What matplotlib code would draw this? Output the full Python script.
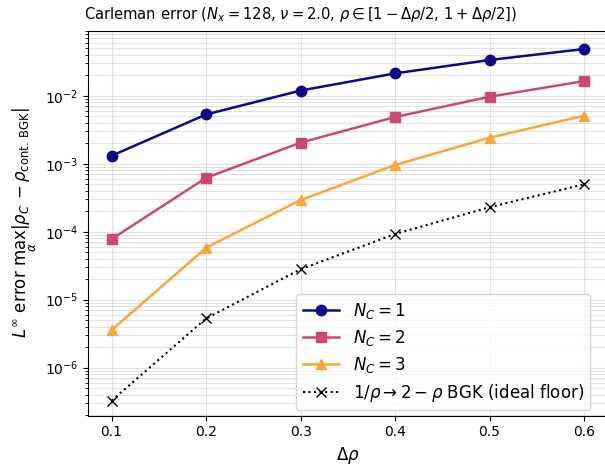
import matplotlib
matplotlib.use("Agg")
import matplotlib.pyplot as plt
import numpy as np

delta_rho = [0.1, 0.2, 0.3, 0.4, 0.5, 0.6]
err_nc1 = [1.31e-3, 5.3e-3, 1.19e-2, 2.13e-2, 3.35e-2, 4.86e-2]
err_nc2 = [7.8e-5, 6.2e-4, 2.04e-3, 4.86e-3, 9.66e-3, 1.64e-2]
err_nc3 = [3.58e-6, 5.8e-5, 2.92e-4, 9.57e-4, 2.41e-3, 5.08e-3]
err_bgk = [3.27e-7, 5.3e-6, 2.8e-5, 9.25e-5, 2.29e-4, 4.98e-4]

labels = [r'$N_C = 1$', r'$N_C = 2$', r'$N_C = 3$',
          r'$1/\rho \to 2 - \rho$ BGK (ideal floor)']

fig = plt.figure(figsize=(6.05, 4.70), dpi=100)
ax = fig.add_axes([88/605, 1-415.7/470, (607.6-88)/605, (415.7-30.5)/470])

ax.plot(delta_rho, err_nc1, '-o', color='#0d0887', lw=1.8, ms=7.5, label=labels[0])
ax.plot(delta_rho, err_nc2, '-s', color='#cc4778', lw=1.8, ms=7.5, label=labels[1])
ax.plot(delta_rho, err_nc3, '-^', color='#fca636', lw=1.8, ms=7.5, label=labels[2])
ax.plot(delta_rho, err_bgk, ':x', color='black', lw=1.5, ms=7.5, label=labels[3])

ax.set_yscale('log')
ax.set_xlim(0.075, 0.625)
ax.set_ylim(10**-6.706, 10**-1.041)
ax.set_xticks(delta_rho)
ax.grid(True, which='both', color='#d0d0d0', alpha=0.6, lw=0.8)
ax.set_xlabel(r'$\Delta\rho$', fontsize=12)
ax.set_ylabel(r'$L^\infty$ error $\max_\alpha|\rho_C - \rho_{\mathrm{cont.\,BGK}}|$', fontsize=12)
fig.text(300/605, 1-15/470,
         r'Carleman error ($N_x = 128$, $\nu = 2.0$, $\rho \in [1 - \Delta\rho/2,\, 1 + \Delta\rho/2]$)',
         fontsize=10.6, ha='center', va='center')
ax.tick_params(labelsize=10)
ax.legend(loc='lower right', fontsize=12, labelspacing=0.42, handlelength=2.2,
          bbox_to_anchor=(0.983, -0.008))

fig.savefig('out.png', dpi=100)
